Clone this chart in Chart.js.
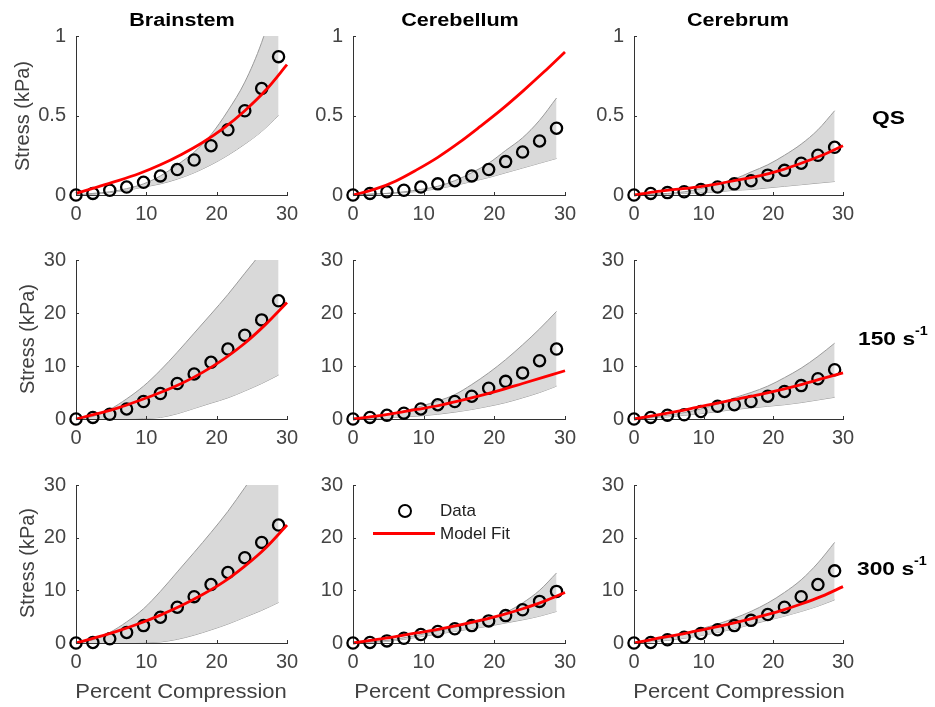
<!DOCTYPE html>
<html>
<head>
<meta charset="utf-8">
<script src="https://cdn.jsdelivr.net/npm/chart.js@4.4.1/dist/chart.umd.min.js"></script>
<style>
  html, body { margin:0; padding:0; background:#fff; }
  #wrap { position:relative; width:935px; height:707px; overflow:hidden; font-family:"Liberation Sans", Arial, sans-serif; }
  canvas { position:absolute; }
  .lbl { position:absolute; white-space:nowrap; transform-origin:center center; }
  .title { font-weight:bold; font-size:18px; color:#000; transform:translate(-50%,-50%) scaleX(1.2); }
  .row { font-weight:bold; font-size:19px; color:#000; transform:translate(0,-50%) scaleX(1.2); transform-origin:left center; }
  .row sup { font-size:12px; position:relative; top:-2px; }
  .ylab { font-size:20px; color:#404040; transform:translate(-50%,-50%) rotate(-90deg); }
  .xlab { font-size:20px; color:#404040; transform:translate(-50%,-50%) scaleX(1.1); }
  .leg { font-size:17px; color:#222; transform:translate(0,-50%); }
</style>
</head>
<body>
<div id="wrap"></div>
<script>
// ---------- data ----------
const compression = [0, 2.4, 4.8, 7.2, 9.6, 12, 14.4, 16.8, 19.2, 21.6, 24, 26.4, 28.8];
const fitCompression = [0, 3, 6, 9, 12, 15, 18, 21, 24, 27, 30];
const xTickValues = [0, 10, 20, 30];
const yTickValuesQS = [0, 0.5, 1];
const yTickValuesRate = [0, 10, 20, 30];
const regions = ["Brainstem", "Cerebellum", "Cerebrum"];
const rates = ["QS", "150", "300"];

// Brainstem QS
const brainstemQS_data  = [0, 0.01, 0.03, 0.05, 0.08, 0.12, 0.16, 0.22, 0.31, 0.41, 0.53, 0.67, 0.87];
const brainstemQS_fit   = [0.01, 0.05, 0.09, 0.135, 0.19, 0.255, 0.33, 0.42, 0.53, 0.66, 0.82];
const brainstemQS_upper = [0, 0.01, 0.02, 0.04, 0.07, 0.12, 0.19, 0.27, 0.38, 0.53, 0.71, 0.96, 1.3];
const brainstemQS_lower = [0, 0.005, 0.015, 0.03, 0.05, 0.07, 0.10, 0.14, 0.19, 0.25, 0.32, 0.40, 0.50];
// Cerebellum QS
const cerebellumQS_data  = [0, 0.01, 0.02, 0.03, 0.05, 0.07, 0.09, 0.12, 0.16, 0.21, 0.27, 0.34, 0.42];
const cerebellumQS_fit   = [0, 0.035, 0.087, 0.158, 0.237, 0.329, 0.431, 0.537, 0.652, 0.773, 0.9];
const cerebellumQS_upper = [0, 0.005, 0.01, 0.02, 0.035, 0.055, 0.09, 0.14, 0.20, 0.28, 0.36, 0.47, 0.61];
const cerebellumQS_lower = [0, 0.005, 0.01, 0.015, 0.025, 0.04, 0.06, 0.085, 0.11, 0.14, 0.17, 0.20, 0.23];
// Cerebrum QS
const cerebrumQS_data  = [0, 0.01, 0.015, 0.02, 0.035, 0.05, 0.07, 0.09, 0.125, 0.155, 0.2, 0.25, 0.3];
const cerebrumQS_fit   = [0, 0.02, 0.035, 0.05, 0.07, 0.095, 0.12, 0.155, 0.2, 0.25, 0.31];
const cerebrumQS_upper = [0, 0.005, 0.01, 0.02, 0.04, 0.07, 0.10, 0.145, 0.19, 0.25, 0.32, 0.41, 0.53];
const cerebrumQS_lower = [0, 0.003, 0.006, 0.01, 0.015, 0.02, 0.03, 0.035, 0.045, 0.055, 0.065, 0.075, 0.085];
// Brainstem 150 s^-1
const brainstem150_data  = [0, 0.3, 0.9, 1.9, 3.3, 4.8, 6.7, 8.5, 10.7, 13.2, 15.8, 18.7, 22.3];
const brainstem150_fit   = [0, 1.0, 2.1, 3.5, 5.0, 6.7, 8.8, 11.3, 14.3, 17.9, 22.0];
const brainstem150_upper = [0, 0.5, 1.8, 3.8, 6.2, 9.2, 12.6, 16.2, 19.8, 23.5, 27.5, 31.5, 36];
const brainstem150_lower = [0, 0, 0, 0, 0.1, 0.3, 1.0, 2.0, 3.0, 4.0, 5.3, 6.7, 8.3];
// Cerebellum 150 s^-1
const cerebellum150_data  = [0, 0.3, 0.7, 1.1, 1.9, 2.7, 3.3, 4.3, 5.8, 7.1, 8.7, 11.0, 13.2];
const cerebellum150_fit   = [0, 0.5, 1.1, 1.8, 2.5, 3.4, 4.4, 5.5, 6.7, 7.9, 9.1];
const cerebellum150_upper = [0, 0.3, 0.8, 1.5, 2.4, 3.4, 4.6, 6.5, 8.7, 11.2, 14.0, 17.0, 20.3];
const cerebellum150_lower = [0, 0.1, 0.2, 0.4, 0.6, 0.9, 1.3, 1.8, 2.4, 3.1, 4.0, 5.0, 6.2];
// Cerebrum 150 s^-1
const cerebrum150_data  = [0, 0.3, 0.7, 0.8, 1.4, 2.4, 2.7, 3.3, 4.3, 5.2, 6.3, 7.6, 9.3];
const cerebrum150_fit   = [0, 0.7, 1.4, 2.2, 3.0, 3.8, 4.6, 5.5, 6.5, 7.6, 8.7];
const cerebrum150_upper = [0, 0.3, 0.7, 1.2, 1.9, 2.8, 4.0, 5.0, 6.2, 7.8, 9.6, 11.8, 14.3];
const cerebrum150_lower = [0, 0.2, 0.4, 0.7, 1.0, 1.4, 1.8, 2.1, 2.4, 2.7, 3.1, 3.6, 4.1];
// Brainstem 300 s^-1
const brainstem300_data  = [0, 0.1, 0.8, 2.0, 3.3, 4.9, 6.8, 8.8, 11.1, 13.4, 16.2, 19.1, 22.4];
const brainstem300_fit   = [0, 1.1, 2.3, 3.7, 5.3, 7.1, 9.2, 11.6, 14.6, 18.1, 22.4];
const brainstem300_upper = [0, 0.6, 2.0, 4.0, 6.5, 9.8, 13.5, 17.2, 21.0, 25.0, 29.5, 34, 38];
const brainstem300_lower = [0, 0, 0, 0, 0.05, 0.2, 0.7, 1.5, 2.5, 3.6, 4.9, 6.2, 7.7];
// Cerebellum 300 s^-1
const cerebellum300_data  = [0, 0.1, 0.4, 0.9, 1.6, 2.2, 2.7, 3.3, 4.2, 5.2, 6.3, 7.9, 9.8];
const cerebellum300_fit   = [0, 0.6, 1.2, 1.9, 2.6, 3.4, 4.3, 5.3, 6.5, 7.9, 9.6];
const cerebellum300_upper = [0, 0.2, 0.5, 1.0, 1.6, 2.3, 3.0, 3.7, 4.5, 5.8, 7.6, 10.0, 13.3];
const cerebellum300_lower = [0, 0.1, 0.3, 0.7, 1.2, 1.7, 2.2, 2.7, 3.2, 3.8, 4.4, 5.1, 6.0];
// Cerebrum 300 s^-1
const cerebrum300_data  = [0, 0.1, 0.6, 1.1, 1.8, 2.5, 3.3, 4.3, 5.4, 6.8, 8.8, 11.1, 13.7];
const cerebrum300_fit   = [0, 0.8, 1.5, 2.3, 3.1, 4.0, 5.0, 6.1, 7.4, 8.9, 10.7];
const cerebrum300_upper = [0, 0.4, 1.0, 1.8, 2.7, 3.6, 4.7, 6.0, 7.6, 9.6, 12.0, 15.2, 19.1];
const cerebrum300_lower = [0, 0.2, 0.5, 0.9, 1.4, 2.0, 2.7, 3.5, 4.3, 5.1, 6.0, 7.0, 8.2];

// ---------- layout ----------
const colX = [[76, 287], [353, 565], [634, 843]];   // pixel of x=0 and x=30
const rowY = [[36, 195], [260, 419], [485, 643]];   // pixel of y=max and y=0
const PADL = 60, PADT = 20, PADR = 28, PADB = 40;

const panelSeries = [
  [[brainstemQS_data, brainstemQS_fit, brainstemQS_upper, brainstemQS_lower],
   [cerebellumQS_data, cerebellumQS_fit, cerebellumQS_upper, cerebellumQS_lower],
   [cerebrumQS_data, cerebrumQS_fit, cerebrumQS_upper, cerebrumQS_lower]],
  [[brainstem150_data, brainstem150_fit, brainstem150_upper, brainstem150_lower],
   [cerebellum150_data, cerebellum150_fit, cerebellum150_upper, cerebellum150_lower],
   [cerebrum150_data, cerebrum150_fit, cerebrum150_upper, cerebrum150_lower]],
  [[brainstem300_data, brainstem300_fit, brainstem300_upper, brainstem300_lower],
   [cerebellum300_data, cerebellum300_fit, cerebellum300_upper, cerebellum300_lower],
   [cerebrum300_data, cerebrum300_fit, cerebrum300_upper, cerebrum300_lower]]
];

const pts = (xs, ys) => xs.map((x, i) => ({x: x, y: ys[i]}));

const inwardTicks = {
  id: 'inwardTicks',
  afterDatasetsDraw(chart) {
    const ctx = chart.ctx, a = chart.chartArea;
    ctx.save();
    ctx.strokeStyle = '#333';
    ctx.lineWidth = 1;
    const xs = chart.scales.x, ys = chart.scales.y;
    xs.ticks.forEach(t => {
      const p = Math.round(xs.getPixelForValue(t.value)) + 0.5;
      ctx.beginPath(); ctx.moveTo(p, a.bottom); ctx.lineTo(p, a.bottom - 3); ctx.stroke();
    });
    ys.ticks.forEach(t => {
      const p = Math.round(ys.getPixelForValue(t.value)) + 0.5;
      ctx.beginPath(); ctx.moveTo(a.left, p); ctx.lineTo(a.left + 3, p); ctx.stroke();
    });
    ctx.restore();
  }
};

const wrap = document.getElementById('wrap');

for (let r = 0; r < 3; r++) {
  for (let c = 0; c < 3; c++) {
    const [x0, x1] = colX[c];
    const [yt, yb] = rowY[r];
    const w = x1 - x0, h = yb - yt;
    const cv = document.createElement('canvas');
    cv.width = w + PADL + PADR;
    cv.height = h + PADT + PADB;
    cv.style.left = (x0 - PADL) + 'px';
    cv.style.top = (yt - PADT) + 'px';
    wrap.appendChild(cv);
    const [dat, fit, up, lo] = panelSeries[r][c];
    const yTicks = r === 0 ? yTickValuesQS : yTickValuesRate;
    const ymax = yTicks[yTicks.length - 1];
    new Chart(cv, {
      type: 'line',
      data: {
        datasets: [
          { label: 'Model Fit', data: pts(fitCompression, fit), borderColor: '#ff0000', borderWidth: 2.8,
            pointRadius: 0, cubicInterpolationMode: 'monotone', fill: false, clip: 2 },
          { label: 'Data', data: pts(compression, dat), showLine: false, pointStyle: 'circle',
            pointRadius: 5.6, pointBorderWidth: 2.3, pointBorderColor: '#000',
            pointBackgroundColor: 'rgba(0,0,0,0)', borderColor: '#000', fill: false, clip: false },
          { label: 'upper', data: pts(compression, up), borderColor: '#9a9a9a', borderWidth: 1,
            backgroundColor: '#d9d9d9', pointRadius: 0, cubicInterpolationMode: 'monotone', fill: '+1', clip: 0 },
          { label: 'lower', data: pts(compression, lo), borderColor: '#9a9a9a', borderWidth: 1,
            pointRadius: 0, cubicInterpolationMode: 'monotone', fill: false, clip: 0 }
        ]
      },
      options: {
        responsive: false,
        devicePixelRatio: 1,
        animation: false,
        events: [],
        layout: { padding: { left: 0, top: PADT, right: PADR, bottom: 0 } },
        plugins: { legend: { display: false }, tooltip: { enabled: false } },
        scales: {
          x: {
            type: 'linear', min: 0, max: 30,
            grid: { display: false, drawTicks: false },
            border: { display: true, color: '#333', width: 1 },
            afterBuildTicks: s => { s.ticks = xTickValues.map(v => ({value: v})); },
            afterFit: s => { s.height = PADB; s.paddingLeft = 0; s.paddingRight = 0; },
            ticks: { color: '#444', font: { family: 'Liberation Sans', size: 20 }, padding: 7,
                     maxRotation: 0, autoSkip: false, callback: v => String(v) }
          },
          y: {
            type: 'linear', min: 0, max: ymax,
            grid: { display: false, drawTicks: false },
            border: { display: true, color: '#333', width: 1 },
            afterBuildTicks: s => { s.ticks = yTicks.map(v => ({value: v})); },
            afterFit: s => { s.width = PADL; s.paddingTop = 0; s.paddingBottom = 0; },
            ticks: { color: '#444', font: { family: 'Liberation Sans', size: 20 }, padding: 10,
                     autoSkip: false, callback: v => String(v) }
          }
        }
      },
      plugins: [inwardTicks]
    });
  }
}

// ---------- text overlays ----------
function addLabel(cls, html, x, y) {
  const d = document.createElement('div');
  d.className = 'lbl ' + cls;
  d.innerHTML = html;
  d.style.left = x + 'px';
  d.style.top = y + 'px';
  wrap.appendChild(d);
}
addLabel('title', regions[0], 182, 20);
addLabel('title', regions[1], 460, 20);
addLabel('title', regions[2], 738, 20);
addLabel('row', rates[0], 872, 118);
addLabel('row', rates[1] + ' s<sup>-1</sup>', 858, 338);
addLabel('row', rates[2] + ' s<sup>-1</sup>', 857, 568);
addLabel('ylab', 'Stress (kPa)', 22, 116);
addLabel('ylab', 'Stress (kPa)', 27, 339);
addLabel('ylab', 'Stress (kPa)', 27, 563);
addLabel('xlab', 'Percent Compression', 181, 691);
addLabel('xlab', 'Percent Compression', 460, 691);
addLabel('xlab', 'Percent Compression', 739, 691);

// legend (Cerebellum, 300 s^-1 panel)
const mk = document.createElement('div');
mk.style.cssText = 'position:absolute;left:398px;top:504px;width:10px;height:10px;border:2.3px solid #000;border-radius:50%;';
wrap.appendChild(mk);
const ln = document.createElement('div');
ln.style.cssText = 'position:absolute;left:373px;top:532px;width:62px;height:3px;background:#ff0000;';
wrap.appendChild(ln);
addLabel('leg', 'Data', 440, 511);
addLabel('leg', 'Model Fit', 440, 534);
</script>
</body>
</html>
